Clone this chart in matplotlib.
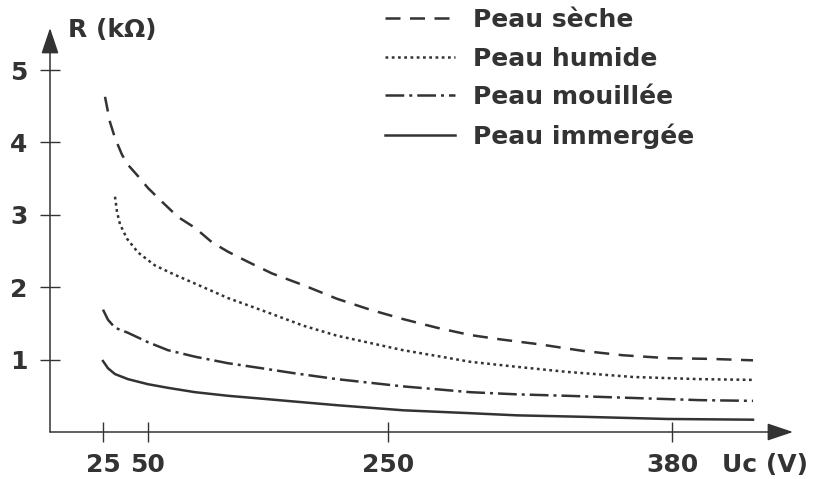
"""
Résistance du corps humain en fonction de la tension de contact Uc,
pour quatre états de la peau.
"""

import matplotlib
matplotlib.use("Agg")
import matplotlib.pyplot as plt

# graduation de l'axe Uc : positions sur le dessin (axe non proportionnel)
uc_ticks_pos = [53, 98, 338, 622]
uc_ticks_labels = ["25", "50", "250", "380"]
r_ticks = [1, 2, 3, 4, 5]

# courbes (position sur l'axe Uc, R en kOhm)
seche_x = [55, 60, 65, 72, 78, 87, 98, 112, 128, 145, 162, 178, 198, 222,
           253, 287, 320, 353, 387, 420, 450, 490, 533, 573, 617, 660, 703]
seche_r = [4.63, 4.28, 4.06, 3.83, 3.69, 3.55, 3.37, 3.18, 2.97, 2.82, 2.62, 2.49, 2.35,
           2.19, 2.03, 1.84, 1.69, 1.56, 1.44, 1.34, 1.28, 1.21, 1.12, 1.06, 1.02, 1.01, 0.99]

humide_x = [65, 67, 70, 77, 88, 105, 125, 145, 178, 222, 253, 287, 320, 353, 387,
            420, 467, 517, 583, 650, 703]
humide_r = [3.25, 3.04, 2.87, 2.67, 2.48, 2.30, 2.17, 2.05, 1.85, 1.63, 1.47, 1.33,
            1.23, 1.13, 1.05, 0.97, 0.90, 0.83, 0.76, 0.73, 0.72]

mouillee_x = [53, 58, 65, 78, 98, 118, 145, 178, 212, 245, 287, 320, 353, 387, 420,
              467, 517, 583, 650, 703]
mouillee_r = [1.69, 1.55, 1.44, 1.37, 1.24, 1.13, 1.04, 0.95, 0.88, 0.81, 0.73, 0.68,
              0.63, 0.59, 0.55, 0.52, 0.50, 0.47, 0.44, 0.43]

immergee_x = [53, 58, 65, 78, 98, 118, 145, 178, 212, 245, 287, 353, 420, 467, 533,
              617, 703]
immergee_r = [0.98, 0.88, 0.80, 0.73, 0.66, 0.61, 0.55, 0.50, 0.46, 0.42, 0.37, 0.30,
              0.26, 0.23, 0.21, 0.18, 0.17]

INK = "#333333"
BOLD = {"family": "DejaVu Sans", "weight": "bold", "size": 18}

fig = plt.figure(figsize=(8.19, 4.79), dpi=100)
ax = fig.add_axes([50 / 819, 1 - 432 / 479, 743 / 819, 404 / 479])

lw = 1.8
ax.plot(seche_x, seche_r, color=INK, lw=lw, dashes=(6, 3.8), label="Peau sèche")
ax.plot(humide_x, humide_r, color=INK, lw=lw, dashes=(1.1, 1.4), label="Peau humide")
ax.plot(mouillee_x, mouillee_r, color=INK, lw=lw, dashes=(7.5, 2, 1.2, 2),
        label="Peau mouillée")
ax.plot(immergee_x, immergee_r, color=INK, lw=lw, label="Peau immergée")

ax.set_xlim(0, 743)
ax.set_ylim(0, 404 / 72.4)

for side in ("top", "right", "left", "bottom"):
    ax.spines[side].set_visible(False)

# axes fléchés
arrow = dict(arrowstyle="-|>,head_length=0.8,head_width=0.27", mutation_scale=20,
             color=INK, lw=1.1, shrinkA=0, shrinkB=0)
ax.annotate("", xy=(0, 1), xytext=(0, 0), xycoords="axes fraction", arrowprops=arrow)
ax.annotate("", xy=(1, 0), xytext=(0, 0), xycoords="axes fraction", arrowprops=arrow)

ax.set_xticks(uc_ticks_pos, uc_ticks_labels)
ax.set_yticks(r_ticks, [str(v) for v in r_ticks])
ax.tick_params(direction="inout", length=14, width=1, color=INK)
ax.tick_params(axis="y", pad=9)
ax.tick_params(axis="x", pad=8)
for lab in ax.get_xticklabels() + ax.get_yticklabels():
    lab.set_fontproperties(BOLD)
    lab.set_color(INK)

ax.set_ylabel("R (kΩ)", rotation=0, ha="left", va="center", color=INK, fontdict=BOLD)
ax.yaxis.set_label_coords(18 / 743, (432 - 30) / 404)
ax.set_xlabel("Uc (V)", ha="left", va="center", color=INK, fontdict=BOLD)
ax.xaxis.set_label_coords((722 - 50) / 743, (432 - 465) / 404)

leg = fig.legend(loc="upper left", bbox_to_anchor=(385 / 819, 1 - 8 / 479),
                 frameon=False, handlelength=2.8, handletextpad=0.72, labelspacing=0.58,
                 borderpad=0, borderaxespad=0, prop=BOLD)
for txt in leg.get_texts():
    txt.set_color(INK)

fig.savefig("out.png", dpi=100)
